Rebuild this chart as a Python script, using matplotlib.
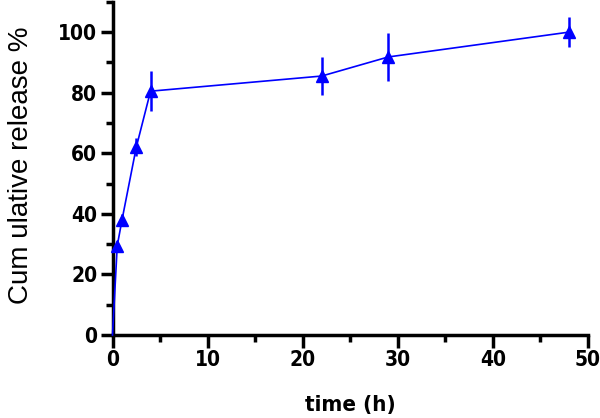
import matplotlib
matplotlib.use("Agg")
import matplotlib.pyplot as plt
from matplotlib.ticker import MultipleLocator

time_h = [0, 0.5, 1, 2.5, 4, 22, 29, 48]
release = [0, 29.5, 38, 62, 80.5, 85.5, 91.8, 100]
sd = [0, 1.5, 2, 3, 6.5, 6.2, 7.8, 5]

plt.rcParams['font.family'] = ['DejaVu Sans', 'Liberation Sans']

fig = plt.figure(figsize=(6, 4.18), dpi=100)
ax = fig.add_axes([0.1875, 0.1986, 0.7925, 0.797])

ax.errorbar(time_h, release, yerr=sd, color='#0000ff', ecolor='#0000ff',
            lw=1.2, elinewidth=1.8, capsize=0, marker='^', markersize=9,
            markevery=list(range(1, len(time_h))),
            markeredgecolor='#0000ff', markerfacecolor='#0000ff', clip_on=False, zorder=3)

ax.set_xlim(0, 50)
ax.set_ylim(0, 110)
ax.xaxis.set_major_locator(MultipleLocator(10))
ax.xaxis.set_minor_locator(MultipleLocator(5))
ax.yaxis.set_major_locator(MultipleLocator(20))
ax.yaxis.set_minor_locator(MultipleLocator(10))

for s in ['top', 'right']:
    ax.spines[s].set_visible(False)
for s in ['left', 'bottom']:
    ax.spines[s].set_linewidth(2.5)

ax.tick_params(axis='both', which='major', length=9, width=2.5, pad=2)
ax.tick_params(axis='both', which='minor', length=5, width=2.5)
for lab in ax.get_xticklabels() + ax.get_yticklabels():
    lab.set_fontweight('bold')
    lab.set_fontstretch('condensed')
    lab.set_fontsize(15)

ax.set_xlabel('time (h)', fontsize=16, fontweight='bold', fontstretch='condensed', labelpad=18)
ax.set_ylabel('Cum ulative release %', fontsize=20, family=['Liberation Sans', 'DejaVu Sans'],
              fontweight='normal')
ax.yaxis.set_label_coords(-0.165, 0.51)

fig.savefig('out.png', dpi=100)
